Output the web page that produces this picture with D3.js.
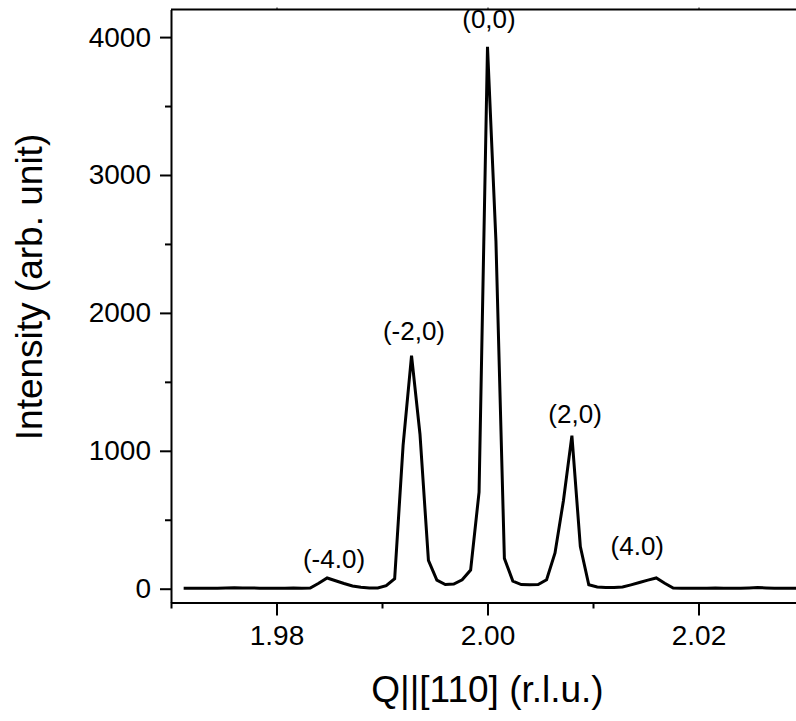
<!DOCTYPE html>
<html>
<head>
<meta charset="utf-8">
<script src="https://cdn.jsdelivr.net/npm/d3@7"></script>
<style>
  body { margin: 0; background: #fff; }
  svg { display: block; font-family: "Liberation Sans", Arial, sans-serif; }
</style>
</head>
<body>
<svg width="796" height="721"></svg>
<script>
// scan along Q||[110], step 0.0008 r.l.u.
const q = [
  1.9712, 1.9720, 1.9728, 1.9736, 1.9744, 1.9752, 1.9760, 1.9768, 1.9776, 1.9784,
  1.9792, 1.9800, 1.9808, 1.9816, 1.9824, 1.9832, 1.9840, 1.9848, 1.9856, 1.9864,
  1.9872, 1.9880, 1.9888, 1.9896, 1.9904, 1.9912, 1.9920, 1.9928, 1.9936, 1.9944,
  1.9952, 1.9960, 1.9968, 1.9976, 1.9984, 1.9992, 2.0000, 2.0008, 2.0016, 2.0024,
  2.0032, 2.0040, 2.0048, 2.0056, 2.0064, 2.0072, 2.0080, 2.0088, 2.0096, 2.0104,
  2.0112, 2.0120, 2.0128, 2.0136, 2.0144, 2.0152, 2.0160, 2.0168, 2.0176, 2.0184,
  2.0192, 2.0200, 2.0208, 2.0216, 2.0224, 2.0232, 2.0240, 2.0248, 2.0256, 2.0264,
  2.0272, 2.0280, 2.0288, 2.0296
];
const intensity = [
  3, 3, 4, 3, 4, 6, 7, 6, 5, 4,
  3, 3, 4, 5, 4, 5, 40, 78, 58, 38,
  20, 10, 5, 6, 22, 72, 1040, 1690, 1120, 205,
  62, 30, 34, 65, 135, 700, 3930, 2520, 220, 55,
  30, 29, 30, 65, 259, 640, 1110, 306, 29, 12,
  8, 8, 12, 28, 45, 62, 78, 40, 5, 4,
  3, 3, 4, 5, 4, 3, 3, 6, 8, 6,
  4, 3, 3, 4
];

// peak labels: text, Q position of label centre, intensity at label baseline
const peakNames = ["(-4.0)", "(-2,0)", "(0,0)", "(2,0)", "(4.0)"];
const labelQ    = [1.98545, 1.99303, 2.00014, 2.00830, 2.01420];
const labelI    = [150, 1800, 4063, 1200, 244];

const xMajor = [1.98, 2.00, 2.02];
const xMinor = [1.97, 1.99, 2.01, 2.03];
const yMajor = [0, 1000, 2000, 3000, 4000];
const yMinor = [500, 1500, 2500, 3500];

const svg = d3.select("svg");

const x = d3.scaleLinear().domain([1.97, 2.03]).range([171, 804]);
const y = d3.scaleLinear().domain([-100, 4200]).range([602.5, 9.5]);

// frame top line
svg.append("line")
  .attr("x1", 171).attr("x2", 804)
  .attr("y1", y(4200)).attr("y2", y(4200))
  .attr("stroke", "#000").attr("stroke-width", 2);

// tiny ticks on the top frame
svg.append("g")
  .attr("transform", `translate(0,${y(4200)})`)
  .call(d3.axisTop(x).tickValues(xMajor).tickSize(2).tickSizeOuter(0).tickFormat(""))
  .call(g => g.select(".domain").remove())
  .selectAll("line").attr("stroke-width", 1);

// bottom axis
svg.append("g")
  .attr("class", "axis")
  .attr("transform", `translate(0,${y(-100)})`)
  .call(d3.axisBottom(x).tickValues(xMajor).tickSize(13).tickSizeOuter(0)
    .tickPadding(10).tickFormat(d3.format(".2f")));
svg.append("g")
  .attr("class", "axis")
  .attr("transform", `translate(0,${y(-100)})`)
  .call(d3.axisBottom(x).tickValues(xMinor).tickSize(6).tickSizeOuter(0).tickFormat(""))
  .call(g => g.select(".domain").remove());

// left axis
svg.append("g")
  .attr("class", "axis")
  .attr("transform", `translate(${x(1.97)},0)`)
  .call(d3.axisLeft(y).tickValues(yMajor).tickSize(11).tickSizeOuter(0)
    .tickPadding(9).tickFormat(d3.format("d")));
svg.append("g")
  .attr("class", "axis")
  .attr("transform", `translate(${x(1.97)},0)`)
  .call(d3.axisLeft(y).tickValues(yMinor).tickSize(6).tickSizeOuter(0).tickFormat(""))
  .call(g => g.select(".domain").remove());

svg.selectAll(".axis .domain").attr("stroke-width", 2);
svg.selectAll(".axis .tick line").attr("stroke-width", 2);
svg.selectAll(".tick text").attr("font-size", 28).attr("fill", "#000")
  .attr("font-family", "Liberation Sans, Arial, sans-serif");

// data line
const line = d3.line()
  .x((d, i) => x(q[i]))
  .y(d => y(d));

svg.append("path")
  .datum(intensity)
  .attr("d", line)
  .attr("fill", "none")
  .attr("stroke", "#000")
  .attr("stroke-width", 3);

// peak labels
svg.append("g").selectAll("text")
  .data(peakNames)
  .join("text")
  .attr("x", (d, i) => x(labelQ[i]))
  .attr("y", (d, i) => y(labelI[i]))
  .attr("text-anchor", "middle")
  .attr("font-size", 26)
  .text(d => d);

// axis titles
svg.append("text")
  .attr("x", (171 + 804) / 2)
  .attr("y", 702)
  .attr("text-anchor", "middle")
  .attr("font-size", 37)
  .text("Q||[110] (r.l.u.)");

svg.append("text")
  .attr("transform", "translate(42,287) rotate(-90)")
  .attr("text-anchor", "middle")
  .attr("font-size", 37)
  .text("Intensity (arb. unit)");
</script>
</body>
</html>
